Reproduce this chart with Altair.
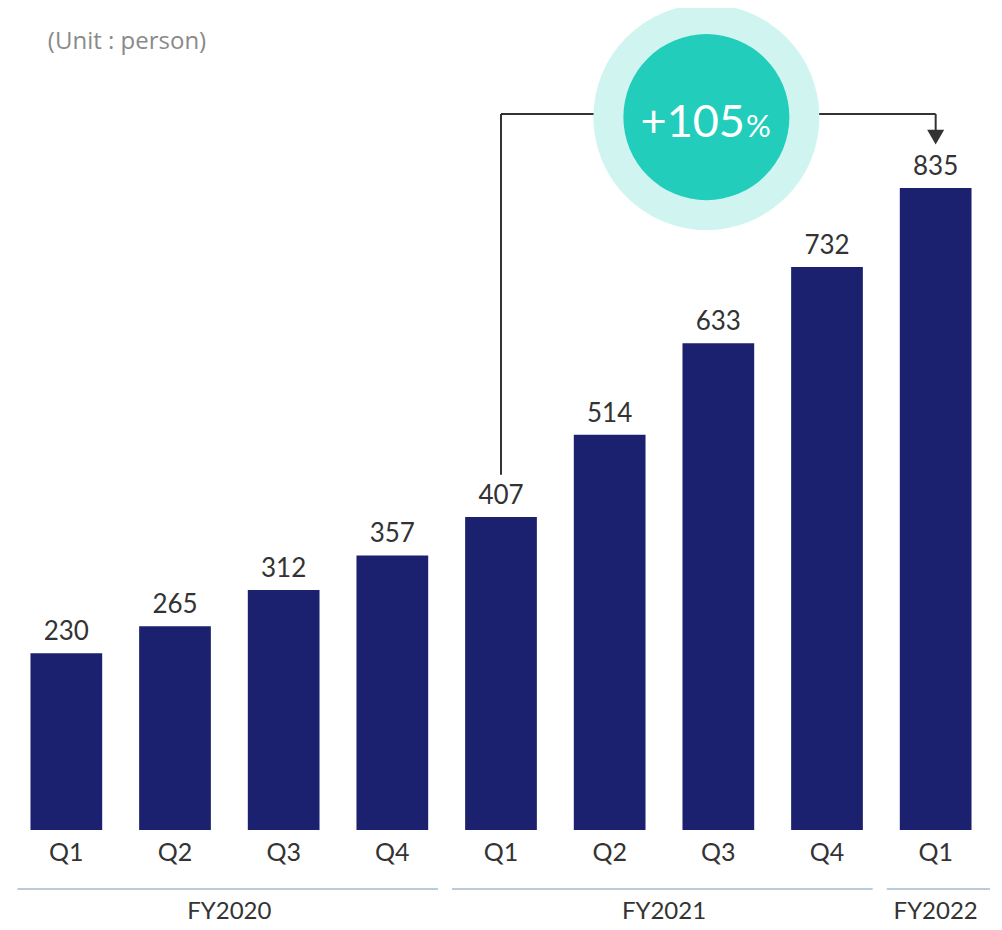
import altair as alt
import pandas as pd

# ---- data ----
years = ["FY2020", "FY2020", "FY2020", "FY2020",
         "FY2021", "FY2021", "FY2021", "FY2021",
         "FY2022"]
quarters = ["Q1", "Q2", "Q3", "Q4", "Q1", "Q2", "Q3", "Q4", "Q1"]
values = [230, 265, 312, 357, 407, 514, 633, 732, 835]
fiscal_years = ["FY2020", "FY2021", "FY2022"]
subtitle = "(Unit : person)"

keys = [f"{y} {q}" for y, q in zip(years, quarters)]
n = len(keys)
df = pd.DataFrame({"key": keys, "year": years, "quarter": quarters, "value": values})

# fiscal-year groups (position in band-step units)
grp_rows = []
for fy in fiscal_years:
    idx = [i for i, y in enumerate(years) if y == fy]
    s, e = idx[0], idx[-1] + 1
    grp_rows.append({"fy": fy, "s": s + 0.05, "e": (e - 0.08) if e < n else e,
                     "c": (s + e) / 2})
grp = pd.DataFrame(grp_rows)

# growth annotation between FY2021 Q1 and FY2022 Q1
i_from, i_to = keys.index("FY2021 Q1"), keys.index("FY2022 Q1")
growth = values[i_to] / values[i_from] - 1
growth_txt = f"+{round(growth * 100)}"

# ---- styles ----
FONT = "Lato"
NAVY = "#1b216e"
TEXT = "#333333"
LINE = "#333333"
TEAL = "#22cdbb"
TEAL_LIGHT = "#d0f5f1"
SEP = "#b9ccd9"

Y_TOP = 931      # connector height (value units)
CIRCLE_X = 6.39  # circle centre (band-step units)

xscale = alt.Scale(domain=keys, paddingInner=0.34, paddingOuter=0.17)
yscale = alt.Scale(domain=[0, 1000], nice=False, zero=True)
qscale = alt.Scale(domain=[0, n], nice=False, zero=False)

xaxis = alt.Axis(title=None, labelExpr="split(datum.label, ' ')[1]",
                 ticks=False, domain=False, labelFontSize=25,
                 labelColor=TEXT, labelPadding=10, labelFont=FONT,
                 labelAngle=0, grid=False)

base = alt.Chart(df)

bars = base.mark_bar(color=NAVY).encode(
    x=alt.X("key:N", scale=xscale, sort=keys, axis=xaxis),
    y=alt.Y("value:Q", scale=yscale, axis=None),
)

labels = base.mark_text(font=FONT, fontSize=26, color=TEXT, baseline="alphabetic",
                        dy=-13).encode(
    x=alt.X("key:N", scale=xscale, sort=keys, axis=None),
    y=alt.Y("value:Q", scale=yscale, axis=None),
    text="value:Q",
)

# connector lines (band-step units: bar i centre = i + 0.5)
xa, xb = i_from + 0.5, i_to + 0.5
conn = pd.DataFrame({
    "x": [xa, xa, xb],
    "x2": [xa, xb, xb],
    "y": [values[i_from] + 55, Y_TOP, Y_TOP],
    "y2": [Y_TOP, Y_TOP, 910],
})
conn_rules = alt.Chart(conn).mark_rule(color=LINE, strokeWidth=2).encode(
    x=alt.X("x:Q", scale=qscale, axis=None), x2="x2:Q",
    y=alt.Y("y:Q", scale=yscale, axis=None), y2="y2:Q",
)
arrow = alt.Chart(pd.DataFrame({"x": [xb], "y": [901]})).mark_point(
    shape="triangle-down", filled=True, size=290, color=LINE, opacity=1
).encode(x=alt.X("x:Q", scale=qscale, axis=None),
         y=alt.Y("y:Q", scale=yscale, axis=None))

circ_df = pd.DataFrame({"x": [CIRCLE_X], "y": [927]})
outer = alt.Chart(circ_df).mark_point(shape="circle", filled=True, size=51076,
                                      color=TEAL_LIGHT, opacity=1).encode(
    x=alt.X("x:Q", scale=qscale, axis=None), y=alt.Y("y:Q", scale=yscale, axis=None))
inner = alt.Chart(circ_df).mark_point(shape="circle", filled=True, size=27556,
                                      color=TEAL, opacity=1).encode(
    x=alt.X("x:Q", scale=qscale, axis=None), y=alt.Y("y:Q", scale=yscale, axis=None))

txt_df = pd.DataFrame({"x": [CIRCLE_X + 0.355], "y": [927], "t": [growth_txt], "p": ["%"]})
pct_num = alt.Chart(txt_df).mark_text(font=FONT, fontSize=45, color="white",
                                      align="right", baseline="alphabetic", dy=20).encode(
    x=alt.X("x:Q", scale=qscale, axis=None), y=alt.Y("y:Q", scale=yscale, axis=None),
    text="t:N")
pct_sign = alt.Chart(txt_df).mark_text(font=FONT, fontSize=31, color="white",
                                       align="left", baseline="alphabetic", dy=20, dx=1).encode(
    x=alt.X("x:Q", scale=qscale, axis=None), y=alt.Y("y:Q", scale=yscale, axis=None),
    text="p:N")

seps = alt.Chart(grp).mark_rule(color=SEP, strokeWidth=2, yOffset=59).encode(
    x=alt.X("s:Q", scale=qscale, axis=None), x2="e:Q",
    y=alt.YDatum(0, scale=yscale, axis=None))
fy_text = alt.Chart(grp).mark_text(font=FONT, fontSize=24, color=TEXT,
                                   baseline="alphabetic", dy=89).encode(
    x=alt.X("c:Q", scale=qscale, axis=None),
    y=alt.YDatum(0, scale=yscale, axis=None), text="fy:N")

# subtitle "(Unit : person)" at the top-left, above the plot area
sub_df = pd.DataFrame({"x": [0.33], "y": [1016], "t": [subtitle]})
sub_text = alt.Chart(sub_df).mark_text(font="Open Sans", fontSize=24, color="#8a8a8a",
                                       align="left", baseline="alphabetic").encode(
    x=alt.X("x:Q", scale=qscale, axis=None), y=alt.Y("y:Q", scale=yscale, axis=None),
    text="t:N")

chart = alt.layer(bars, labels, conn_rules, arrow, outer, inner, pct_num, pct_sign,
                  seps, fy_text, sub_text).resolve_scale(x="independent").properties(
    width=978, height=769,
    autosize=alt.AutoSizeParams(type="none"),
    padding={"left": 4, "right": 4, "top": 53, "bottom": 96},
).configure_view(stroke=None)

chart.save("out.html", embed_options={"renderer": "svg", "actions": False})
